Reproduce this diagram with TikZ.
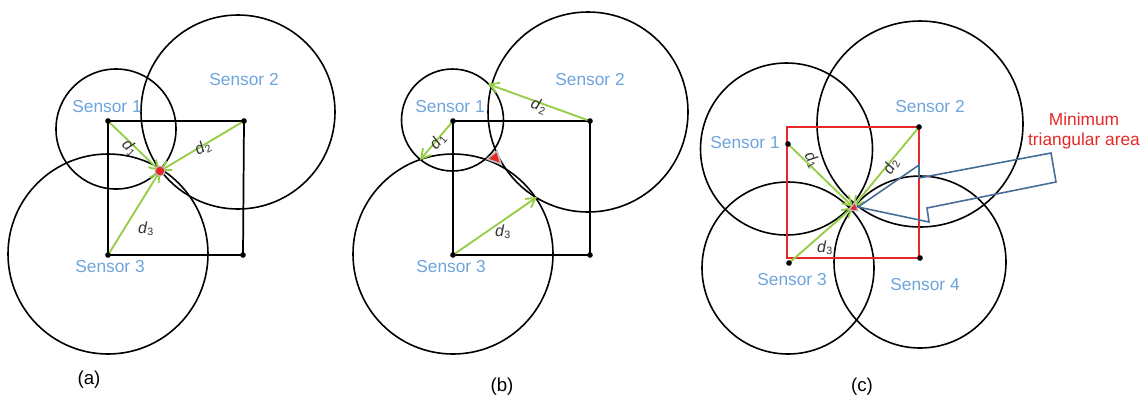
\documentclass[tikz,border=0pt]{standalone}
\usepackage{fontspec}
\setmainfont{Liberation Sans}
\usepackage{tikz}
\usetikzlibrary{arrows.meta}
\definecolor{sensorBlue}{RGB}{110,165,220}
\definecolor{rangeGreen}{RGB}{150,205,70}
\definecolor{areaRed}{RGB}{230,40,40}
\definecolor{calloutBlue}{RGB}{70,110,150}
\newcommand{\dist}[1]{\textit{d}\textsubscript{#1}}

\begin{document}
\begin{tikzpicture}[x=0.75pt, y=-0.75pt,
    ring/.style={black, line width=1.2pt},
    squareline/.style={black, line width=1.3pt},
    sensorlbl/.style={font=\fontsize{13}{15}\selectfont, text=sensorBlue},
    distlbl/.style={font=\fontsize{12}{14}\selectfont, text=black!80, inner sep=1pt},
    ray/.style={rangeGreen, line width=1.4pt, -{Straight Barb[length=2.4mm, width=2.8mm]}},
    caption/.style={font=\fontsize{14}{16}\selectfont}]
    \useasboundingbox (0,0) rectangle (1148,401);

    % (a) three circles meet in one point
    \coordinate (a1) at (108,121);
    \coordinate (a2) at (244,121);
    \coordinate (a3) at (108,255);
    \coordinate (a4) at (243,255);
    \coordinate (aT) at (160,171);
    \draw[ring] (116,129) circle[radius=60];
    \draw[ring] (238,112) circle[radius=97];
    \draw[ring] (108,254) circle[radius=100];
    \draw[squareline] (a1) -- (a2) -- (a4) -- (a3) -- cycle;
    \draw[ray] (a1) -- (aT);
    \draw[ray] (a2) -- (aT);
    \draw[ray] (a3) -- (aT);
    \fill[areaRed, draw=black!25, line width=0.8pt] (aT) circle[radius=5];
    \foreach \p in {a1,a2,a3,a4} \fill (\p) circle[radius=2.8];
    \node[sensorlbl] (aS1) at (107,107) {Sensor 1};
    \node[sensorlbl] (aS2) at (244,80) {Sensor 2};
    \node[sensorlbl] (aS3) at (110,267) {Sensor 3};
    \node[distlbl, rotate=-45] (aD1) at (130,148) {\dist{1}};
    \node[distlbl, rotate=28] (aD2) at (203,148) {\dist{2}};
    \node[distlbl] (aD3) at (146,229) {\dist{3}};
    \node[caption] (capA) at (89,380) {(a)};

    % (b) circles do not meet in one point
    \coordinate (b1) at (453,121);
    \coordinate (b2) at (590,121);
    \coordinate (b3) at (453,255);
    \coordinate (b4) at (590,255);
    \coordinate (bT1) at (420,160);
    \coordinate (bT2) at (488,84);
    \coordinate (bT3) at (537,197);
    \draw[ring] (452.5,120) circle[radius=51];
    \draw[ring] (588,112) circle[radius=100];
    \draw[ring] (453,254) circle[radius=100];
    \draw[squareline] (b1) -- (b2) -- (b4) -- (b3) -- cycle;
    \draw[ray] (b1) -- (bT1);
    \draw[ray] (b2) -- (bT2);
    \draw[ray] (b3) -- (bT3);
    \fill[areaRed, draw=black!25, line width=1.2pt, line join=round] (487,159) -- (497,151) -- (501,164) -- cycle;
    \foreach \p in {b1,b2,b3,b4} \fill (\p) circle[radius=2.8];
    \node[sensorlbl] (bS1) at (450,107) {Sensor 1};
    \node[sensorlbl] (bS2) at (590,80) {Sensor 2};
    \node[sensorlbl] (bS3) at (451,267) {Sensor 3};
    \node[distlbl, rotate=50] (bD1) at (438,141) {\dist{1}};
    \node[distlbl, rotate=-20] (bD2) at (539,106) {\dist{2}};
    \node[distlbl] (bD3) at (503,232) {\dist{3}};
    \node[caption] (capB) at (502,387) {(b)};

    % (c) four sensors
    \coordinate (c1) at (788,144);
    \coordinate (c2) at (919,127);
    \coordinate (c3) at (789,263);
    \coordinate (c4) at (920,258);
    \coordinate (cT) at (853,207);
    \draw[ring] (786.5,149) circle[radius=86];
    \draw[ring] (920,124) circle[radius=103];
    \draw[ring] (788,268) circle[radius=86];
    \draw[ring] (920,262) circle[radius=86];
    \draw[areaRed, line width=1.3pt] (787,127) rectangle (919,258);
    \draw[ray] (c1) -- (cT);
    \draw[ray] (c2) -- (cT);
    \draw[ray] (c3) -- (cT);
    \fill[areaRed, draw=black!25, line width=1pt, line join=round] (849,210) -- (855,202) -- (858,211) -- cycle;
    \draw[calloutBlue, line width=1.2pt] (858,207) -- (919,165) -- (919,178) -- (1051,153)
        -- (1056,182) -- (927,208) -- (929,222) -- cycle;
    \foreach \p in {c1,c2,c3,c4} \fill (\p) circle[radius=2.8];
    \node[sensorlbl] (cS1) at (745,143) {Sensor 1};
    \node[sensorlbl] (cS2) at (930,107) {Sensor 2};
    \node[sensorlbl] (cS3) at (792,280) {Sensor 3};
    \node[sensorlbl] (cS4) at (925,285) {Sensor 4};
    \node[distlbl, rotate=-60] (cD1) at (812,160) {\dist{1}};
    \node[distlbl, rotate=60] (cD2) at (891,166) {\dist{2}};
    \node[distlbl] (cD3) at (825,248) {\dist{3}};
    \node[font=\fontsize{13}{15}\selectfont, text=areaRed, align=center] (minArea) at (1084,131)
        {Minimum\\triangular area};
    \node[caption] (capC) at (862,387) {(c)};
\end{tikzpicture}
\end{document}
